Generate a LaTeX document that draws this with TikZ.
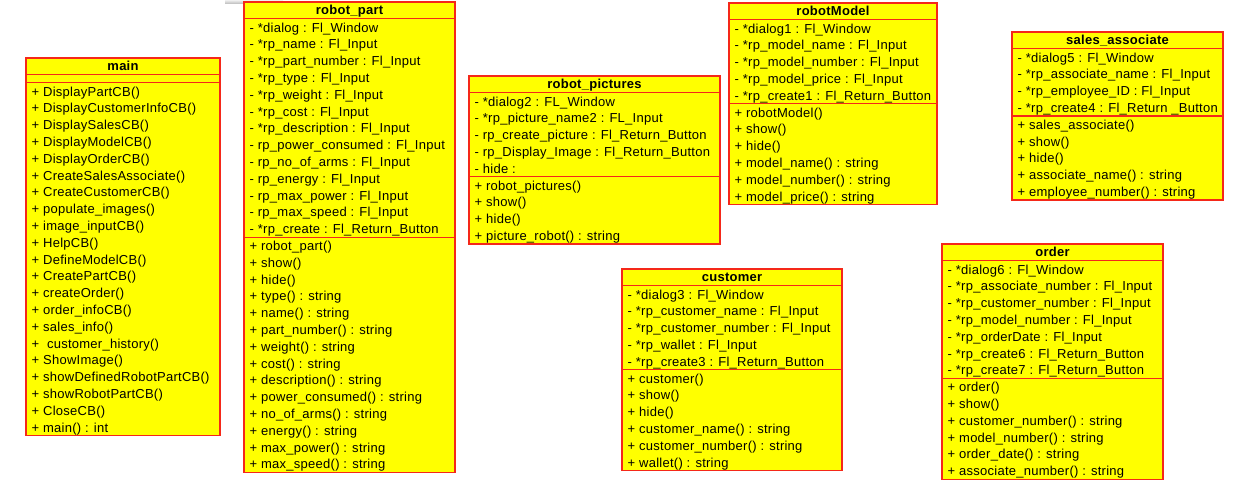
\documentclass[tikz,border=0pt]{standalone}
\usepackage{fontspec}
\setmainfont{Liberation Sans}[LetterSpace=2.0]
\definecolor{umlfill}{RGB}{255,255,0}
\definecolor{umlline}{RGB}{245,40,25}
\tikzset{
  classbox/.style={draw=umlline, fill=umlfill, line width=1.3bp, inner sep=0pt, outer sep=0pt, anchor=north west},
  sepline/.style={draw=umlline, line width=1.3bp},
  item/.style={anchor=base west, inner sep=0pt, text=black, font=\fontsize{13bp}{15bp}\selectfont},
  titletext/.style={anchor=base, inner sep=0pt, text=black, font=\fontsize{13bp}{15bp}\selectfont\bfseries},
}
\def\rowh{16.8}
% #1 id, #2 title, #3 left, #4 right, #5 top, #6 attr count, #7 method count, #8 attrs, #9 methods
\newcommand\umlbox[9]{%
  \pgfmathsetmacro\ya{#5+\rowh}%
  \pgfmathsetmacro\yb{\ya+(#6==0 ? 8 : #6*\rowh)}%
  \pgfmathsetmacro\yc{\yb+#7*\rowh}%
  \pgfmathsetmacro\bw{#4-#3}%
  \pgfmathsetmacro\bh{\yc-#5}%
  \node[classbox, minimum width=\bw bp, minimum height=\bh bp] (#1) at (#3,#5) {};
  \draw[sepline] (#3,\ya) -- (#4,\ya);
  \draw[sepline] (#3,\yb) -- (#4,\yb);
  \node[titletext] (#1-t) at ({(#3+#4)/2},{#5+13}) {#2};
  \ifnum#6>0
    \foreach \t [count=\i] in {#8} {\node[item] (#1-a\i) at ({#3+5.5},{\ya+(\i-1)*\rowh+13.3}) {\t};}
  \fi
  \foreach \t [count=\i] in {#9} {\node[item] (#1-m\i) at ({#3+5.5},{\yb+(\i-1)*\rowh+13.3}) {\t};}
}
\begin{document}
\begin{tikzpicture}[x=1bp,y=-1bp]
\useasboundingbox (0,0) rectangle (1241,491);
\shade[top color=gray!12, bottom color=gray!50] (225,0) rectangle (283,3.5);

\umlbox{main}{main}{26}{220}{58}{0}{21}{}{%
+ DisplayPartCB(),
+ DisplayCustomerInfoCB(),
+ DisplaySalesCB(),
+ DisplayModelCB(),
+ DisplayOrderCB(),
+ CreateSalesAssociate(),
+ CreateCustomerCB(),
+ populate\_images(),
+ image\_inputCB(),
+ HelpCB(),
+ DefineModelCB(),
+ CreatePartCB(),
+ createOrder(),
+ order\_infoCB(),
+ sales\_info(),
+ \ customer\_history(),
+ ShowImage(),
+ showDefinedRobotPartCB(),
+ showRobotPartCB(),
+ CloseCB(),
+ main() : int}

\umlbox{rpart}{robot\_part}{244}{455}{2}{13}{14}{%
- *dialog : Fl\_Window,
- *rp\_name : Fl\_Input,
- *rp\_part\_number : Fl\_Input,
- *rp\_type : Fl\_Input,
- *rp\_weight : Fl\_Input,
- *rp\_cost : Fl\_Input,
- *rp\_description : Fl\_Input,
- rp\_power\_consumed : Fl\_Input,
- rp\_no\_of\_arms : Fl\_Input,
- rp\_energy : Fl\_Input,
- rp\_max\_power : Fl\_Input,
- rp\_max\_speed : Fl\_Input,
- *rp\_create : Fl\_Return\_Button}{%
+ robot\_part(),
+ show(),
+ hide(),
+ type() : string,
+ name() : string,
+ part\_number() : string,
+ weight() : string,
+ cost() : string,
+ description() : string,
+ power\_consumed() : string,
+ no\_of\_arms() : string,
+ energy() : string,
+ max\_power() : string,
+ max\_speed() : string}

\umlbox{rpics}{robot\_pictures}{469}{720}{76}{5}{4}{%
- *dialog2 : FL\_Window,
- *rp\_picture\_name2 : FL\_Input,
- rp\_create\_picture : Fl\_Return\_Button,
- rp\_Display\_Image : Fl\_Return\_Button,
- hide :}{%
+ robot\_pictures(),
+ show(),
+ hide(),
+ picture\_robot() : string}

\umlbox{rmodel}{robotModel}{729}{937}{3}{5}{6}{%
- *dialog1 : Fl\_Window,
- *rp\_model\_name : Fl\_Input,
- *rp\_model\_number : Fl\_Input,
- *rp\_model\_price : Fl\_Input,
- *rp\_create1 : Fl\_Return\_Button}{%
+ robotModel(),
+ show(),
+ hide(),
+ model\_name() : string,
+ model\_number() : string,
+ model\_price() : string}

\umlbox{sales}{sales\_associate}{1012}{1223}{32}{4}{5}{%
- *dialog5 : Fl\_Window,
- *rp\_associate\_name : Fl\_Input,
- *rp\_employee\_ID : Fl\_Input,
- *rp\_create4 : Fl\_Return \_Button}{%
+ sales\_associate(),
+ show(),
+ hide(),
+ associate\_name() : string,
+ employee\_number() : string}

\umlbox{cust}{customer}{622}{842}{269}{5}{6}{%
- *dialog3 : Fl\_Window,
- *rp\_customer\_name : Fl\_Input,
- *rp\_customer\_number : Fl\_Input,
- *rp\_wallet : Fl\_Input,
- *rp\_create3 : Fl\_Return\_Button}{%
+ customer(),
+ show(),
+ hide(),
+ customer\_name() : string,
+ customer\_number() : string,
+ wallet() : string}

\umlbox{order}{order}{942}{1163}{244}{7}{6}{%
- *dialog6 : Fl\_Window,
- *rp\_associate\_number : Fl\_Input,
- *rp\_customer\_number : Fl\_Input,
- *rp\_model\_number : Fl\_Input,
- *rp\_orderDate : Fl\_Input,
- *rp\_create6 : Fl\_Return\_Button,
- *rp\_create7 : Fl\_Return\_Button}{%
+ order(),
+ show(),
+ customer\_number() : string,
+ model\_number() : string,
+ order\_date() : string,
+ associate\_number() : string}
\end{tikzpicture}
\end{document}
